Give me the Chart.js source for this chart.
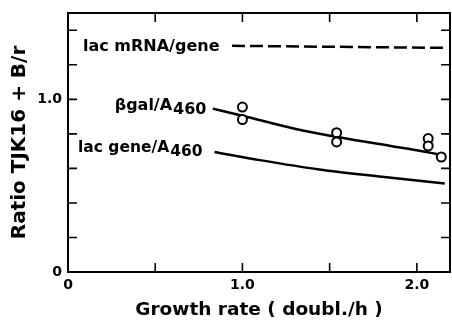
<!DOCTYPE html>
<html>
<head>
<meta charset="utf-8">
<script src="https://cdn.jsdelivr.net/npm/chart.js@4.4.0/dist/chart.umd.min.js"></script>
<style>
  html, body { margin: 0; padding: 0; background: #fff; }
</style>
</head>
<body>
<canvas id="c" width="452" height="320"></canvas>
<script>
// ratios TJK16 / B/r vs growth rate (doublings/h)
const mrnaX = [0.94, 2.16];
const mrnaY = [1.31, 1.298];
const bgalLineX = [0.83, 1.0, 1.3, 1.57, 1.85, 2.08, 2.14];
const bgalLineY = [0.946, 0.905, 0.83, 0.777, 0.73, 0.69, 0.678];
const bgalPtX = [1.0, 1.0, 1.54, 1.54, 2.065, 2.065, 2.14];
const bgalPtY = [0.955, 0.883, 0.807, 0.753, 0.773, 0.73, 0.666];
const geneX = [0.84, 1.1, 1.44, 1.8, 2.16];
const geneY = [0.695, 0.648, 0.594, 0.552, 0.513];

const xTicks = [0, 0.5, 1.0, 1.5, 2.0];
const xTickLabels = ['0', '', '1.0', '', '2.0'];
const yTicks = [0, 0.2, 0.4, 0.6, 0.8, 1.0, 1.2, 1.4];
const yTickLabels = ['0', '', '', '', '', '1.0', '', ''];

const FONT = "'DejaVu Sans', sans-serif";
const pts = (xs, ys) => xs.map((x, i) => ({ x, y: ys[i] }));

// box round the plot, inward ticks on all four sides, and the curve labels
const frame = {
  id: 'frame',
  afterDatasetsDraw(chart) {
    const { ctx, chartArea: a, scales: { x, y } } = chart;
    ctx.save();
    ctx.strokeStyle = '#000';
    ctx.lineWidth = 2;
    ctx.strokeRect(a.left, a.top, a.right - a.left, a.bottom - a.top);
    ctx.lineWidth = 1.6;
    ctx.beginPath();
    xTicks.slice(1).forEach(v => {
      const px = x.getPixelForValue(v);
      ctx.moveTo(px, a.bottom); ctx.lineTo(px, a.bottom - 9);
      ctx.moveTo(px, a.top); ctx.lineTo(px, a.top + 9);
    });
    yTicks.slice(1).forEach(v => {
      const py = y.getPixelForValue(v);
      ctx.moveTo(a.left, py); ctx.lineTo(a.left + 9, py);
      ctx.moveTo(a.right, py); ctx.lineTo(a.right - 9, py);
    });
    ctx.stroke();

    ctx.fillStyle = '#000';
    ctx.textBaseline = 'middle';
    ctx.font = 'bold 16px ' + FONT;
    ctx.textAlign = 'left';
    ctx.fillText('lac mRNA/gene', x.getPixelForValue(0.086), y.getPixelForValue(1.306));

    // name + lowered "460", right end sits just before the curve
    const sub = (name, xv, yv) => {
      const right = x.getPixelForValue(xv);
      const py = y.getPixelForValue(yv);
      ctx.textAlign = 'right';
      ctx.fillText('460', right, py + 4);
      const w = ctx.measureText('460').width;
      ctx.fillText(name, right - w - 1, py);
    };
    sub('\u03B2gal/A', 0.794, 0.965);
    ctx.font = 'bold 15.5px ' + FONT;
    sub('lac gene/A', 0.771, 0.717);
    ctx.restore();
  }
};

new Chart(document.getElementById('c'), {
  type: 'scatter',
  data: {
    datasets: [
      {
        label: '\u03B2gal/A460 data',
        data: pts(bgalPtX, bgalPtY),
        showLine: false,
        pointRadius: 4.5,
        pointBackgroundColor: '#fff',
        pointBorderColor: '#000',
        pointBorderWidth: 2,
        order: 0
      },
      {
        label: 'lac mRNA/gene',
        data: pts(mrnaX, mrnaY),
        showLine: true,
        borderColor: '#000',
        borderWidth: 2.5,
        borderDash: [13, 5],
        pointRadius: 0,
        order: 1
      },
      {
        label: '\u03B2gal/A460',
        data: pts(bgalLineX, bgalLineY),
        showLine: true,
        cubicInterpolationMode: 'monotone',
        borderColor: '#000',
        borderWidth: 2.5,
        pointRadius: 0,
        order: 1
      },
      {
        label: 'lac gene/A460',
        data: pts(geneX, geneY),
        showLine: true,
        cubicInterpolationMode: 'monotone',
        borderColor: '#000',
        borderWidth: 2.5,
        pointRadius: 0,
        order: 1
      }
    ]
  },
  options: {
    responsive: false,
    devicePixelRatio: 1,
    animation: false,
    layout: { autoPadding: false, padding: { top: 13, right: 2, left: 0, bottom: 0 } },
    plugins: { legend: { display: false }, tooltip: { enabled: false } },
    scales: {
      x: {
        type: 'linear',
        min: 0,
        max: 2.19,
        afterBuildTicks: s => { s.ticks = xTicks.map(v => ({ value: v })); },
        afterFit: s => { s.height = 48; s.paddingLeft = 0; s.paddingRight = 0; },
        grid: { display: false, drawTicks: false },
        border: { display: false },
        ticks: {
          autoSkip: false,
          maxRotation: 0,
          padding: 5,
          color: '#000',
          font: { family: FONT, weight: 'bold', size: 14 },
          callback: (v, i) => xTickLabels[i]
        },
        title: {
          display: true,
          text: 'Growth rate ( doubl./h )',
          color: '#000',
          font: { family: FONT, weight: 'bold', size: 18.5, lineHeight: 1 },
          padding: { top: 0, bottom: 1 }
        }
      },
      y: {
        type: 'linear',
        min: 0,
        max: 1.5,
        afterBuildTicks: s => { s.ticks = yTicks.map(v => ({ value: v })); },
        afterFit: s => { s.width = 68; s.paddingTop = 0; s.paddingBottom = 0; },
        grid: { display: false, drawTicks: false },
        border: { display: false },
        ticks: {
          autoSkip: false,
          padding: 6,
          color: '#000',
          font: { family: FONT, weight: 'bold', size: 14 },
          callback: (v, i) => yTickLabels[i]
        },
        title: {
          display: true,
          text: 'Ratio TJK16 + B/r',
          color: '#000',
          font: { family: FONT, weight: 'bold', size: 20, lineHeight: 1 },
          padding: { top: 10, bottom: 0 }
        }
      }
    }
  },
  plugins: [frame]
});
</script>
</body>
</html>
